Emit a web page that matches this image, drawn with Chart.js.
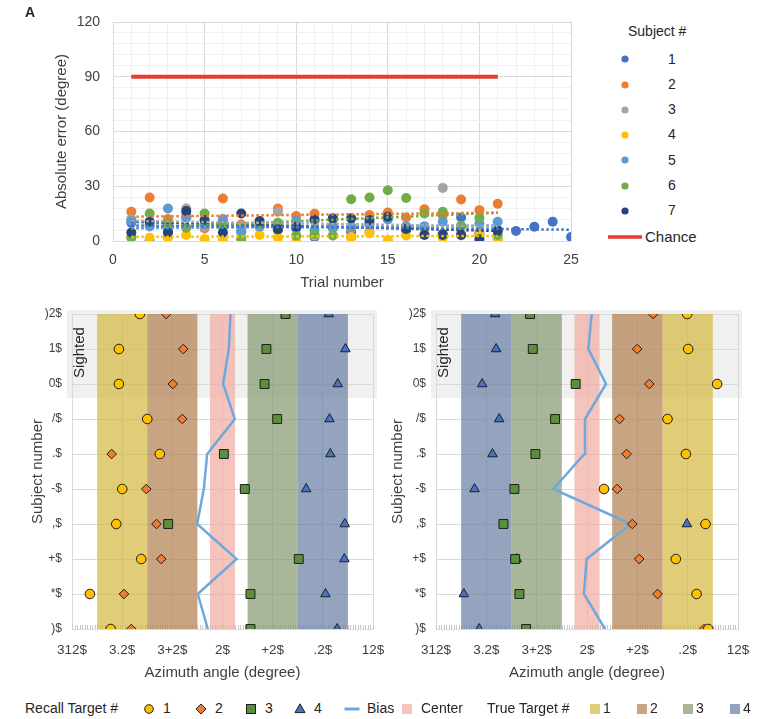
<!DOCTYPE html>
<html><head><meta charset="utf-8">
<script src="https://cdn.jsdelivr.net/npm/chart.js@4"></script>
<style>
body{margin:0;background:#fff;width:767px;height:719px;position:relative;overflow:hidden;font-family:"Liberation Sans",Arial,sans-serif;color:#262626}
canvas{position:absolute}
.t{position:absolute;white-space:nowrap;line-height:1}
svg{position:absolute;overflow:visible}
</style></head><body>
<canvas id="topChart" width="600" height="300" style="left:0;top:0"></canvas>
<canvas id="leftChart" width="392" height="390" style="left:0;top:300px"></canvas>
<canvas id="rightChart" width="403" height="390" style="left:364px;top:300px"></canvas>
<div id="legTop"></div>
<div id="legBottom"></div>
<div class="t" style="left:25px;top:5px;font-weight:bold;font-size:14px">A</div>
<script>
// ---------------- DATA: panel A ----------------
const subjectNames = ['1','2','3','4','5','6','7'];
const subjectColors = ['#4472c4','#ed7d31','#a5a5a5','#ffc000','#5b9bd5','#70ad47','#264478'];
const errS1 = [10, 0, 5, 13, 9, 10, 5, 8, 6, 7, 2.2, 8, 5, 10, 12, 6, 7, 4, 12.9, 4, 6, 5.5, 7.8, 10.5, 2.2];
const errS2 = [16, 23.8, 12, 15, 6.9, 23.3, 9, 8, 17.8, 13.7, 14.9, 12, 7, 14.2, 15.6, 12.9, 17.4, 14, 22.7, 16.9, 20.4];
const errS3 = [12, 9, 9, 17.8, 8, 10, 8, 8.7, 16, 10, 11, 12, 2, 5, 0, 8, 8, 29.1, 4, 5, 1];
const errS4 = [2, 1.8, 1.8, 3.3, 1, 0.4, 2, 3.3, 1.8, 0, 3, 3, 2.2, 4.2, 0.5, 3, 4, 1.8, 3, 3, 1];
const errS5 = [11, 8, 17.8, 12.7, 9, 12, 5.5, 8, 9, 10.9, 6, 7, 8, 9, 12, 8, 8, 10.5, 8, 9.6, 10.5];
const errS6 = [1.8, 15.1, 9.6, 7.3, 15.1, 7.8, 1, 9, 10, 3, 3.6, 3, 22.9, 23.8, 27.8, 23.6, 15.1, 16, 8.4, 12.7, 3.3];
const errS7 = [4.7, 10.5, 4.7, 16.4, 11.5, 4.7, 15.1, 10.9, 6.4, 7.8, 11.8, 12.4, 12.4, 11.5, 13.3, 6.6, 3.3, 3.3, 3.3, 1, 5.5];
const trendStart = [8.5, 13.3, 11, 2.3, 7, 7, 10.5];
const trendEnd   = [6.2, 15.5, 8, 2.8, 8.5, 15.5, 5.5];
const chanceTrials = [1, 21];
const chanceValues = [90, 90];
const chanceLabel = 'Chance';

// ---------------- DATA: panels B ----------------
const subjects = [1,2,3,4,5,6,7,8,9,10];
const subjectTickLabels = [')$', '*$', '+$', ',$', '-$', '.$', '/$', '0$', '1$', ')2$'];
const azimuthTickValues = [-120, -80, -40, 0, 40, 80, 120];
const azimuthTickLabels = ['312$', '3.2$', '3+2$', '2$', '+2$', '.2$', '12$'];
const sightedLabel = 'Sighted';
const sightedFromRow = 7.6;

const leftRecall1 = [-89.2, -105.7, -64.8, -84.7, -79.9, -50, -60, -82.6, -82.6, -65.9];
const leftRecall2 = [-72.7, -78.6, -48.8, -52.6, -60.8, -88.4, -32.1, -39.6, -31.3, -44.9];
const leftRecall3 = [22.3, 22.3, 60.8, -43.3, 17.8, 1.1, 43.6, 33.5, 35, 50.2];
const leftRecall4 = [91.4, 82.1, 97.2, 97.5, 66.7, 86, 85.3, 91.9, 98, 84.7];
const leftBias    = [-11.7, -19.7, 11.2, -20.2, -14.9, -12.2, 9.8, 0.5, 5, 6.4];
const leftTargetFrom = [-100, -60, 20, 60];   // true targets 1..4
const leftTargetTo   = [-60, -20, 60, 100];

const rightRecall1 = [96.3, 87.1, 70.6, 94.2, 13.5, 78.6, 64, 103.4, 80.4, 79.6];
const rightRecall2 = [93.1, 56.1, 41.5, 36, 24, 31.5, 25.9, 49.5, 39.9, 52.6];
const rightRecall3 = [-48.4, -53.7, -57.1, -66.4, -57.7, -41, -25.4, -9, -43.1, -45.2];
const rightRecall4 = [-85.7, -97.9, -55.8, 79.4, -89.4, -75.1, -69.8, -83.3, -72.2, -73];
const rightBias    = [14.3, -2.4, -0.3, 34.9, -26.7, -2.1, -1.6, 15.1, 1.1, 3.7];
const rightTargetFrom = [60, 20, -60, -100];
const rightTargetTo   = [100, 60, -20, -60];
const centerFrom = -10, centerTo = 10;

const recallLabels = ['1','2','3','4'];
const trueTargetLabels = ['1','2','3','4'];

// ---------------- STYLE ----------------
const F = '"Liberation Sans", Arial, sans-serif';
Chart.defaults.font.family = F;
Chart.defaults.color = '#404040';
const targetColors = ['rgba(212,182,62,0.7)','rgba(178,126,79,0.7)','rgba(131,153,111,0.7)','rgba(102,126,162,0.7)'];
const centerColor = 'rgba(241,171,159,0.7)';
const recallStyle = [
  {pointStyle:'circle', r:4.8, bg:'#ffc000'},
  {pointStyle:'rectRot', r:4.8, bg:'#ed7d31'},
  {pointStyle:'rect', r:6.3, bg:'#5b8f3c'},
  {pointStyle:'triangle', r:5.5, bg:'#4472c4'}
];
const biasColor = '#6fa8dc';
const chanceColor = '#e53c2e';

// ---------------- TOP CHART ----------------
const errs = [errS1, errS2, errS3, errS4, errS5, errS6, errS7];
const topSets = [];
topSets.push({label:chanceLabel, data: chanceTrials.map((t,i)=>({x:t,y:chanceValues[i]})), showLine:true,
  pointRadius:0, borderColor:chanceColor, borderWidth:4, order:0});
errs.forEach((arr, s) => {
  topSets.push({label:'trend'+subjectNames[s], data:[{x:1,y:trendStart[s]},{x:arr.length,y:trendEnd[s]}],
    showLine:true, pointRadius:0, borderColor:subjectColors[s], borderWidth:2.5, borderDash:[2.5,2.5], order:1});
});
errs.forEach((arr, s) => {
  topSets.push({label:subjectNames[s], data: arr.map((v,i)=>({x:i+1,y:v})), pointRadius:5, pointHoverRadius:5,
    backgroundColor:subjectColors[s], borderWidth:0, order: 12 - s});
});

new Chart(document.getElementById('topChart'), {
  type:'scatter',
  data:{datasets:topSets},
  options:{
    responsive:false, animation:false, devicePixelRatio:1,
    layout:{padding:{top:22,right:29,left:0,bottom:0}},
    plugins:{legend:{display:false}, tooltip:{enabled:false}},
    scales:{
      x:{type:'linear', min:0, max:25,
        ticks:{stepSize:1, autoSkip:false, maxRotation:0, padding:10.5, color:'#404040', font:{size:14},
          callback:v => v % 5 === 0 ? String(v) : ''},
        grid:{drawTicks:false, color:c => (c.tick && c.tick.value % 5 === 0) ? '#d9d9d9' : '#f0f0f0'},
        border:{display:true, color:'#d9d9d9'},
        title:{display:true, text:'Trial number', font:{size:15}, color:'#404040', padding:{top:0,bottom:8}},
        afterFit:s => { s.height = 59; }
      },
      y:{type:'linear', min:0, max:120,
        ticks:{stepSize:6, autoSkip:false, padding:13, color:'#404040', font:{size:14},
          callback:v => v % 30 === 0 ? String(v) : ''},
        grid:{drawTicks:false, color:c => (c.tick && c.tick.value % 30 === 0) ? '#d9d9d9' : '#f0f0f0'},
        border:{display:true, color:'#d9d9d9'},
        title:{display:true, text:'Absolute error (degree)', font:{size:15}, color:'#404040', padding:{top:53,bottom:0}},
        afterFit:s => { s.width = 113; }
      }
    }
  }
});

// ---------------- BOTTOM PANELS ----------------
const bandPlugin = {
  id:'bands',
  beforeDraw(chart, args, o){
    const {ctx, chartArea:a, scales:{y}} = chart;
    const yb = y.getPixelForValue(o.sightedFrom);
    ctx.save(); ctx.fillStyle = '#f0f0f0';
    ctx.fillRect(a.left-5, a.top-4, a.right-a.left+9, yb-(a.top-4));
    ctx.restore();
  },
  beforeDatasetsDraw(chart, args, o){
    const {ctx, chartArea:a, scales:{x}} = chart;
    ctx.save();
    ctx.strokeStyle = '#c8c8c8'; ctx.lineWidth = 1;
    for (let v = x.min; v <= x.max; v += 2) {
      const px = Math.round(x.getPixelForValue(v)) + 0.5;
      ctx.beginPath(); ctx.moveTo(px, a.bottom - 4); ctx.lineTo(px, a.bottom); ctx.stroke();
    }
    o.bands.forEach(b => {
      const x1 = x.getPixelForValue(b.from), x2 = x.getPixelForValue(b.to);
      ctx.fillStyle = b.color;
      ctx.fillRect(x1, a.top, x2 - x1, a.bottom - a.top);
    });
    ctx.restore();
  },
  afterDatasetsDraw(chart, args, o){
    const {ctx, chartArea:a, scales:{y}} = chart;
    ctx.save();
    ctx.translate(a.left + 7.5, y.getPixelForValue(o.textRow));
    ctx.rotate(-Math.PI/2);
    ctx.font = '15px ' + F; ctx.fillStyle = '#262626';
    ctx.textAlign = 'center'; ctx.textBaseline = 'middle';
    ctx.fillText(o.text, 0, 0);
    ctx.restore();
  }
};

function panel(id, recalls, bias, tFrom, tTo, yWidth, padRight, titlePad){
  const pts = arr => arr.map((v,i) => ({x:v, y:subjects[i]}));
  const sets = recalls.map((arr, k) => ({
    label: recallLabels[k], data: pts(arr), pointStyle: recallStyle[k].pointStyle,
    pointRadius: recallStyle[k].r, pointHoverRadius: recallStyle[k].r,
    backgroundColor: recallStyle[k].bg, borderColor:'#1f1f1f', borderWidth:1,
    order: [2,3,1,4][k]
  }));
  sets.push({label:'Bias', data: pts(bias), showLine:true, pointRadius:0, borderColor:biasColor, borderWidth:2.5, order:10});
  const bands = tFrom.map((f,k) => ({from:f, to:tTo[k], color:targetColors[k]}));
  bands.push({from:centerFrom, to:centerTo, color:centerColor});
  new Chart(document.getElementById(id), {
    type:'scatter',
    data:{datasets:sets},
    plugins:[bandPlugin],
    options:{
      responsive:false, animation:false, devicePixelRatio:1,
      layout:{padding:{top:14, right:padRight, left:0, bottom:0}},
      plugins:{legend:{display:false}, tooltip:{enabled:false},
        bands:{bands:bands, sightedFrom:sightedFromRow, text:sightedLabel, textRow:8.9}},
      scales:{
        x:{type:'linear', min:-120, max:120,
          ticks:{stepSize:40, autoSkip:false, maxRotation:0, padding:13, color:'#404040', font:{size:13.5},
            callback:v => { const i = azimuthTickValues.indexOf(v); return i >= 0 ? azimuthTickLabels[i] : ''; }},
          grid:{drawTicks:false, color:'#d9d9d9'},
          border:{display:true, color:'#d9d9d9'},
          title:{display:true, text:'Azimuth angle (degree)', font:{size:15}, color:'#404040', padding:{top:0,bottom:8}},
          afterFit:s => { s.height = 61; s.paddingLeft = 0; s.paddingRight = 0; }
        },
        y:{type:'linear', min:1, max:10,
          ticks:{stepSize:1, autoSkip:false, padding:10, color:'#404040', font:{size:12},
            callback:v => subjectTickLabels[v-1] || ''},
          grid:{drawTicks:false, color:'#d9d9d9'},
          border:{display:false},
          title:{display:true, text:'Subject number', font:{size:15}, color:'#404040', padding:{top:titlePad,bottom:0}},
          afterFit:s => { s.width = yWidth; s.paddingTop = 0; s.paddingBottom = 0; }
        }
      }
    }
  });
}
panel('leftChart', [leftRecall1,leftRecall2,leftRecall3,leftRecall4], leftBias, leftTargetFrom, leftTargetTo, 72, 19, 29);
panel('rightChart', [rightRecall1,rightRecall2,rightRecall3,rightRecall4], rightBias, rightTargetFrom, rightTargetTo, 72, 29, 25);

// ---------------- LEGENDS ----------------
function txt(parent, s, left, cy, size, extra){
  const d = document.createElement('div'); d.className = 't';
  d.textContent = s; d.style.left = left + 'px'; d.style.top = (cy - size*0.55) + 'px';
  d.style.fontSize = size + 'px'; d.style.color = '#262626';
  if (extra) Object.assign(d.style, extra);
  parent.appendChild(d); return d;
}
function svgEl(parent, cx, cy, inner){
  const s = document.createElementNS('http://www.w3.org/2000/svg','svg');
  s.setAttribute('width','20'); s.setAttribute('height','20');
  s.style.left = (cx-10) + 'px'; s.style.top = (cy-10) + 'px';
  s.innerHTML = inner; parent.appendChild(s);
}
const lt = document.getElementById('legTop');
txt(lt, 'Subject #', 628, 32, 14);
subjectNames.forEach((n, i) => {
  const cy = 59.3 + i*25.25;
  svgEl(lt, 625, cy, `<circle cx="10" cy="10" r="3.6" fill="${subjectColors[i]}"/>`);
  const d = txt(lt, n, 672, cy, 14); d.style.transform = 'translateX(-50%)';
});
svgEl(lt, 625, 236.5, `<line x1="-7" y1="10" x2="27" y2="10" stroke="${chanceColor}" stroke-width="3.5"/>`);
txt(lt, chanceLabel, 645, 237, 15);

const lb = document.getElementById('legBottom');
const LY = 708.5;
txt(lb, 'Recall Target #', 25, LY, 14);
const rx = [149, 201, 251, 300];
const rShapes = [
  `<circle cx="10" cy="10" r="4.3" fill="#ffc000" stroke="#1f1f1f" stroke-width="1"/>`,
  `<polygon points="10,5 15,10 10,15 5,10" fill="#ed7d31" stroke="#1f1f1f" stroke-width="1"/>`,
  `<rect x="5.5" y="5.5" width="9" height="9" fill="#5b8f3c" stroke="#1f1f1f" stroke-width="1"/>`,
  `<polygon points="10,4.8 15,13.6 5,13.6" fill="#4472c4" stroke="#1f1f1f" stroke-width="1"/>`
];
recallLabels.forEach((l, k) => {
  svgEl(lb, rx[k], LY, rShapes[k]);
  txt(lb, l, rx[k] + 14, LY, 14);
});
svgEl(lb, 352, LY, `<line x1="2.5" y1="10" x2="17.5" y2="10" stroke="${biasColor}" stroke-width="3"/>`);
txt(lb, 'Bias', 367, LY, 14);
svgEl(lb, 407, LY, `<rect x="5" y="5" width="10" height="10" fill="${centerColor}"/>`);
txt(lb, 'Center', 421, LY, 14);
txt(lb, 'True Target #', 487, LY, 14);
const tx = [595, 642, 688, 735];
trueTargetLabels.forEach((l, k) => {
  svgEl(lb, tx[k], LY, `<rect x="5" y="5" width="10" height="10" fill="${targetColors[k]}"/>`);
  txt(lb, l, tx[k] + 8, LY, 14);
});
</script>
</body></html>
